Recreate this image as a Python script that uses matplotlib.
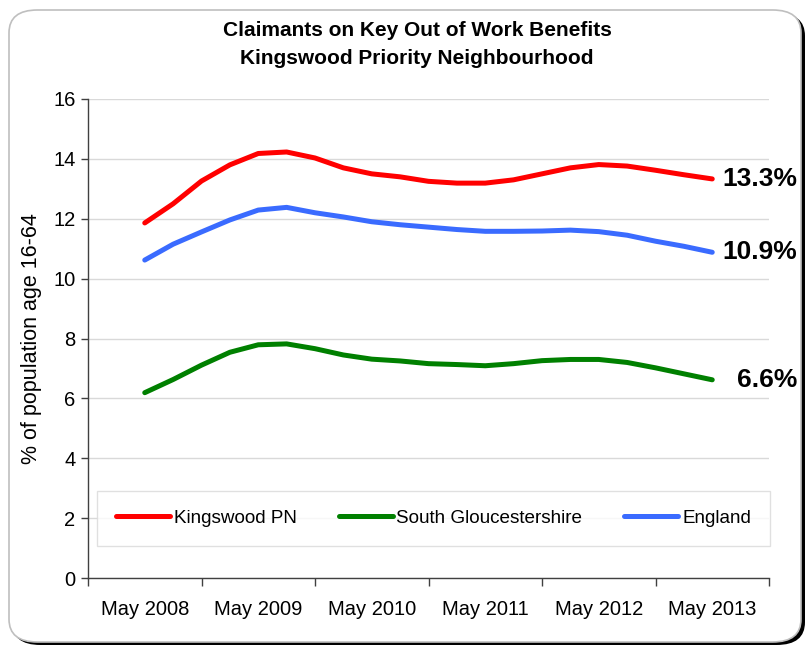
import matplotlib
matplotlib.use("Agg")
import matplotlib.pyplot as plt
from matplotlib.patches import FancyBboxPatch

plt.rcParams['font.family'] = ['Liberation Sans', 'DejaVu Sans']

# Quarterly observations, May 2008 .. May 2013 (index 0 = May 2008)
quarters = list(range(21))
kingswood = [11.86, 12.50, 13.26, 13.80, 14.18, 14.23, 14.03, 13.70, 13.50, 13.40,
             13.25, 13.19, 13.19, 13.30, 13.50, 13.70, 13.81, 13.76, 13.62, 13.47, 13.33]
england = [10.62, 11.15, 11.56, 11.96, 12.29, 12.38, 12.20, 12.06, 11.90, 11.80,
           11.72, 11.64, 11.58, 11.58, 11.59, 11.62, 11.57, 11.45, 11.25, 11.08, 10.88]
south_glos = [6.19, 6.63, 7.11, 7.54, 7.79, 7.82, 7.66, 7.45, 7.31, 7.25,
              7.16, 7.13, 7.09, 7.16, 7.26, 7.30, 7.30, 7.20, 7.02, 6.82, 6.62]

year_labels = ['May 2008', 'May 2009', 'May 2010', 'May 2011', 'May 2012', 'May 2013']
label_pos = [0, 4, 8, 12, 16, 20]
boundary_pos = [-2, 2, 6, 10, 14, 18, 22]

series = [
    ('Kingswood PN', kingswood, '#FF0000', '13.3%'),
    ('South Gloucestershire', south_glos, '#008000', '6.6%'),
    ('England', england, '#3A6BFF', '10.9%'),
]

fig = plt.figure(figsize=(8.11, 6.51), dpi=100)

# outer rounded frame with shadow
shadow = FancyBboxPatch((12 / 811, 6 / 651), 793 / 811, 632 / 651,
                        boxstyle="round,pad=0,rounding_size=0.035",
                        transform=fig.transFigure, facecolor='black',
                        edgecolor='black', lw=0, zorder=-2)
fig.patches.append(shadow)
frame = FancyBboxPatch((9 / 811, 9 / 651), 792 / 811, 632 / 651,
                       boxstyle="round,pad=0,rounding_size=0.035",
                       transform=fig.transFigure, facecolor='white',
                       edgecolor='#BFBFBF', lw=1.2, zorder=-1)
fig.patches.append(frame)

ax = fig.add_axes([88 / 811, 1 - 578 / 651, 681 / 811, 479 / 651])
ax.set_facecolor('none')
ax.set_zorder(2)

for name, vals, col, lab in series:
    ax.plot(quarters, vals, color=col, lw=3.6, solid_capstyle='round',
            solid_joinstyle='round', label=name, zorder=3)
    ax.annotate(lab, xy=(quarters[-1], vals[-1]), xytext=(61, 0),
                textcoords='offset points', ha='right', va='center',
                fontsize=19, fontweight='bold', color='black',
                annotation_clip=False)

ax.set_xlim(-2, 22)
ax.set_ylim(0, 16)
ax.set_yticks(range(0, 17, 2))
ax.tick_params(axis='y', labelsize=14.5, length=5, width=1, color='#404040', pad=4)
ax.set_xticks(boundary_pos)
ax.set_xticklabels([])
ax.set_xticks(label_pos, minor=True)
ax.set_xticklabels(year_labels, minor=True)
ax.tick_params(axis='x', which='major', length=6, width=1, color='#404040')
ax.tick_params(axis='x', which='minor', length=0, labelsize=14.5, pad=16)

ax.grid(axis='y', color='#D9D9D9', lw=1)
ax.set_axisbelow(True)
for s in ['top', 'right']:
    ax.spines[s].set_visible(False)
for s in ['left', 'bottom']:
    ax.spines[s].set_color('#404040')
    ax.spines[s].set_linewidth(1)

ax.set_ylabel('% of population age 16-64', fontsize=15.5, labelpad=8)

fig.text(417 / 811, 1 - 31 / 651, 'Claimants on Key Out of Work Benefits',
         ha='center', va='center', fontsize=15, fontweight='bold')
fig.text(417 / 811, 1 - 58 / 651, 'Kingswood Priority Neighbourhood',
         ha='center', va='center', fontsize=15, fontweight='bold')

leg = ax.legend(loc='center', bbox_to_anchor=(9 / 681, 30 / 479, 673 / 681, 60 / 479),
                mode='expand', ncol=3, fontsize=13.6, frameon=True, fancybox=False,
                handlelength=2.86, handletextpad=0.2, borderaxespad=0,
                borderpad=1.0, columnspacing=2.2)
leg.get_frame().set_edgecolor('#D9D9D9')
leg.get_frame().set_linewidth(1)

fig.savefig('out.png', dpi=100)
